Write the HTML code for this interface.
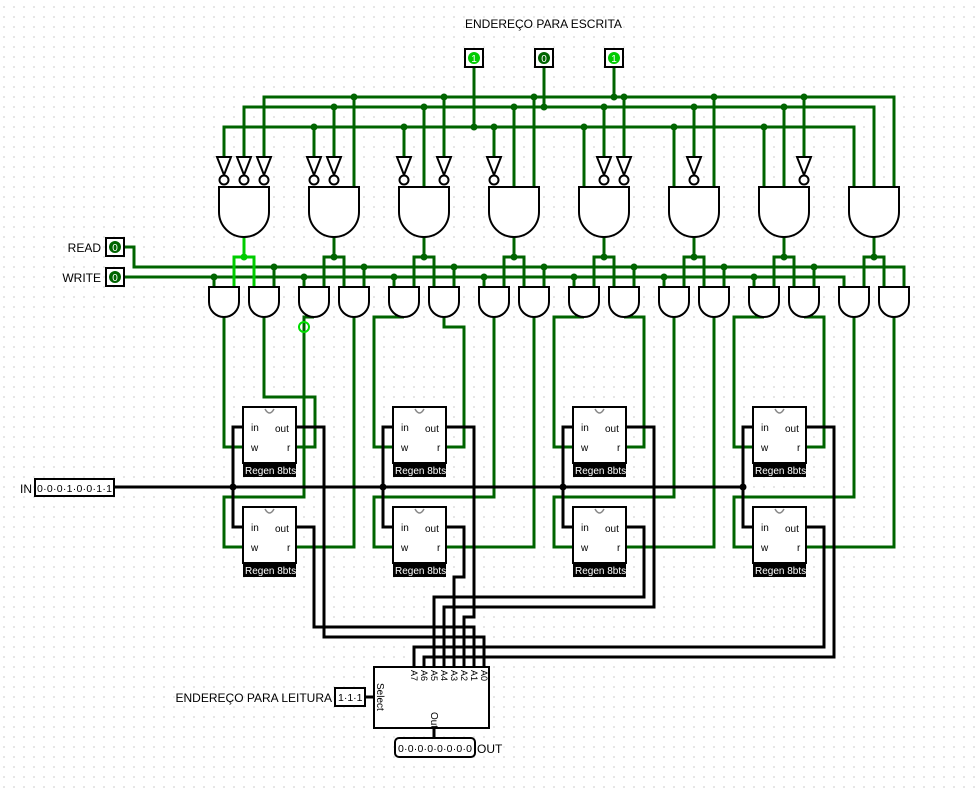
<!DOCTYPE html>
<html><head><meta charset="utf-8"><style>
html,body{margin:0;padding:0;background:#fff}
svg{display:block}
text{font-family:"Liberation Sans",sans-serif}
</style></head><body>
<svg width="979" height="789" viewBox="0 0 979 789" xmlns="http://www.w3.org/2000/svg">
<defs>
<pattern id="grid" width="10" height="10" patternUnits="userSpaceOnUse"><rect x="3.5" y="6.5" width="1" height="1" fill="#999"/></pattern>
<path id="band" d="M-25,0 H25 V25 A25,25 0 0 1 -25,25 Z" fill="#fff" stroke="#000" stroke-width="2"/>
<path id="sand" d="M-15,0 H15 V15 A15,15 0 0 1 -15,15 Z" fill="#fff" stroke="#000" stroke-width="2"/>
<g id="not"><polygon points="-7,0 7,0 0,18" fill="#fff" stroke="#000" stroke-width="2"/><circle cx="0" cy="23" r="4.5" fill="#fff" stroke="#000" stroke-width="2"/></g>
<g id="reg">
<rect x="0" y="0" width="53" height="56" fill="#fff" stroke="#000" stroke-width="2"/>
<path d="M22,2 Q26.5,10 31,2" fill="none" stroke="#888" stroke-width="1.5"/>
<rect x="0" y="56" width="53" height="14" fill="#000"/>
<text x="2" y="67" font-size="10" fill="#fff">Regen 8bts</text>
<text x="8" y="24" font-size="10">in</text>
<text x="8" y="44" font-size="10">w</text>
<text x="32" y="25" font-size="10">out</text>
<text x="44" y="44" font-size="10">r</text>
</g>
<circle id="d" r="3.5"/>
</defs>
<rect width="979" height="789" fill="url(#grid)"/>

<text x="465" y="28" font-size="12">ENDEREÇO PARA ESCRITA</text>

<!-- green wires -->
<g fill="none" stroke="#006400" stroke-width="3" stroke-linejoin="miter">
<polyline points="224,157 224,127 854,127 854,187"/>
<polyline points="244,157 244,107 874,107 874,187"/>
<polyline points="264,157 264,97 894,97 894,187"/>
<line x1="474" y1="66" x2="474" y2="127"/>
<line x1="544" y1="66" x2="544" y2="107"/>
<line x1="614" y1="66" x2="614" y2="97"/>
<path d="M314,127V157M334,107V157M354,97V187
M404,127V157M424,107V187M444,97V157
M494,127V157M514,107V187M534,97V187
M584,127V187M604,107V157M624,97V157
M674,127V187M694,107V157M714,97V187
M764,127V187M784,107V187M804,97V157"/>
<!-- decoder outputs -->
<path d="M334,237V257M324,287V257H344V287
M424,237V257M414,287V257H434V287
M514,237V257M504,287V257H524V287
M604,237V257M594,287V257H614V287
M694,237V257M684,287V257H704V287
M784,237V257M774,287V257H794V287
M874,237V257M864,287V257H884V287"/>
<!-- read / write -->
<polyline points="124,247 134,247 134,267 904,267 904,287"/>
<polyline points="124,277 844,277 844,287"/>
<path d="M274,267V287M364,267V287M454,267V287M544,267V287M634,267V287M724,267V287M814,267V287
M214,277V287M304,277V287M394,277V287M484,277V287M574,277V287M664,277V287M754,277V287"/>
<!-- small and to registers -->
<polyline points="224,317 224,447 243,447"/>
<polyline points="264,317 264,397 315,397 315,447 296,447"/>
<polyline points="314,317 304,317 304,497 224,497 224,547 243,547"/>
<polyline points="354,317 354,547 296,547"/>
<polyline points="404,317 374,317 374,447 393,447"/>
<polyline points="444,317 444,327 464,327 464,447 446,447"/>
<polyline points="494,317 494,497 374,497 374,547 393,547"/>
<polyline points="534,317 534,547 446,547"/>
<polyline points="584,317 554,317 554,447 573,447"/>
<polyline points="624,317 644,317 644,447 626,447"/>
<polyline points="674,317 674,497 554,497 554,547 573,547"/>
<polyline points="714,317 714,547 626,547"/>
<polyline points="764,317 734,317 734,447 753,447"/>
<polyline points="804,317 824,317 824,447 806,447"/>
<polyline points="854,317 854,497 734,497 734,547 753,547"/>
<polyline points="894,317 894,547 806,547"/>
</g>
<!-- bright green gate 0 path -->
<path d="M244,237V257M234,287V257H254V287" fill="none" stroke="#00cc00" stroke-width="3"/>
<circle cx="304" cy="327" r="5" fill="none" stroke="#00dd00" stroke-width="2"/>

<!-- junction dots -->
<g fill="#006400">
<use href="#d" x="474" y="127"/><use href="#d" x="544" y="107"/><use href="#d" x="614" y="97"/>
<use href="#d" x="314" y="127"/><use href="#d" x="404" y="127"/><use href="#d" x="494" y="127"/><use href="#d" x="584" y="127"/><use href="#d" x="674" y="127"/><use href="#d" x="764" y="127"/>
<use href="#d" x="334" y="107"/><use href="#d" x="424" y="107"/><use href="#d" x="514" y="107"/><use href="#d" x="604" y="107"/><use href="#d" x="694" y="107"/><use href="#d" x="784" y="107"/>
<use href="#d" x="354" y="97"/><use href="#d" x="444" y="97"/><use href="#d" x="534" y="97"/><use href="#d" x="624" y="97"/><use href="#d" x="714" y="97"/><use href="#d" x="804" y="97"/>
<use href="#d" x="334" y="257"/><use href="#d" x="424" y="257"/><use href="#d" x="514" y="257"/><use href="#d" x="604" y="257"/><use href="#d" x="694" y="257"/><use href="#d" x="784" y="257"/><use href="#d" x="874" y="257"/>
<use href="#d" x="274" y="267"/><use href="#d" x="364" y="267"/><use href="#d" x="454" y="267"/><use href="#d" x="544" y="267"/><use href="#d" x="634" y="267"/><use href="#d" x="724" y="267"/><use href="#d" x="814" y="267"/>
<use href="#d" x="214" y="277"/><use href="#d" x="304" y="277"/><use href="#d" x="394" y="277"/><use href="#d" x="484" y="277"/><use href="#d" x="574" y="277"/><use href="#d" x="664" y="277"/><use href="#d" x="754" y="277"/>
</g>
<use href="#d" x="244" y="257" fill="#00cc00"/>

<!-- gates -->
<use href="#band" x="244" y="187"/><use href="#band" x="334" y="187"/><use href="#band" x="424" y="187"/><use href="#band" x="514" y="187"/>
<use href="#band" x="604" y="187"/><use href="#band" x="694" y="187"/><use href="#band" x="784" y="187"/><use href="#band" x="874" y="187"/>
<use href="#not" x="224" y="157"/><use href="#not" x="244" y="157"/><use href="#not" x="264" y="157"/>
<use href="#not" x="314" y="157"/><use href="#not" x="334" y="157"/>
<use href="#not" x="404" y="157"/><use href="#not" x="444" y="157"/>
<use href="#not" x="494" y="157"/>
<use href="#not" x="604" y="157"/><use href="#not" x="624" y="157"/>
<use href="#not" x="694" y="157"/>
<use href="#not" x="804" y="157"/>
<g>
<use href="#sand" x="224" y="287"/><use href="#sand" x="264" y="287"/>
<use href="#sand" x="314" y="287"/><use href="#sand" x="354" y="287"/>
<use href="#sand" x="404" y="287"/><use href="#sand" x="444" y="287"/>
<use href="#sand" x="494" y="287"/><use href="#sand" x="534" y="287"/>
<use href="#sand" x="584" y="287"/><use href="#sand" x="624" y="287"/>
<use href="#sand" x="674" y="287"/><use href="#sand" x="714" y="287"/>
<use href="#sand" x="764" y="287"/><use href="#sand" x="804" y="287"/>
<use href="#sand" x="854" y="287"/><use href="#sand" x="894" y="287"/>
</g>

<!-- black wires -->
<g fill="none" stroke="#000" stroke-width="3">
<line x1="114" y1="487" x2="745" y2="487"/>
<polyline points="243,427 233,427 233,527 243,527"/>
<polyline points="393,427 383,427 383,527 393,527"/>
<polyline points="573,427 563,427 563,527 573,527"/>
<polyline points="753,427 743,427 743,527 753,527"/>
<polyline points="296,427 324,427 324,637 484,637 484,667"/>
<polyline points="296,527 314,527 314,627 474,627 474,667"/>
<polyline points="446,427 474,427 474,617 464,617 464,667"/>
<polyline points="446,527 464,527 464,577 454,577 454,667"/>
<polyline points="626,427 654,427 654,607 444,607 444,667"/>
<polyline points="626,527 644,527 644,597 434,597 434,667"/>
<polyline points="806,427 834,427 834,657 424,657 424,667"/>
<polyline points="806,527 824,527 824,647 414,647 414,667"/>
<line x1="365" y1="697" x2="374" y2="697"/>
<line x1="434" y1="728" x2="434" y2="738"/>
</g>
<g fill="#000"><use href="#d" x="233" y="487"/><use href="#d" x="383" y="487"/><use href="#d" x="563" y="487"/><use href="#d" x="743" y="487"/></g>

<!-- registers -->
<use href="#reg" x="243" y="407"/><use href="#reg" x="243" y="507"/>
<use href="#reg" x="393" y="407"/><use href="#reg" x="393" y="507"/>
<use href="#reg" x="573" y="407"/><use href="#reg" x="573" y="507"/>
<use href="#reg" x="753" y="407"/><use href="#reg" x="753" y="507"/>

<!-- top pins -->
<rect x="465" y="49" width="18" height="18" fill="#fff" stroke="#000" stroke-width="2"/>
<circle cx="474" cy="58" r="6" fill="#00cc00"/><text x="474" y="62" font-size="10" text-anchor="middle" fill="#fff">1</text>
<rect x="535" y="49" width="18" height="18" fill="#fff" stroke="#000" stroke-width="2"/>
<circle cx="544" cy="58" r="6" fill="#006400"/><text x="544" y="62" font-size="10" text-anchor="middle" fill="#fff">0</text>
<rect x="605" y="49" width="18" height="18" fill="#fff" stroke="#000" stroke-width="2"/>
<circle cx="614" cy="58" r="6" fill="#00cc00"/><text x="614" y="62" font-size="10" text-anchor="middle" fill="#fff">1</text>

<!-- read / write pins -->
<text x="101" y="252" font-size="12" text-anchor="end">READ</text>
<rect x="106" y="238" width="18" height="18" fill="#fff" stroke="#000" stroke-width="2"/>
<circle cx="115" cy="247" r="6" fill="#006400"/><text x="115" y="251" font-size="10" text-anchor="middle" fill="#fff">0</text>
<text x="101" y="282" font-size="12" text-anchor="end">WRITE</text>
<rect x="106" y="268" width="18" height="18" fill="#fff" stroke="#000" stroke-width="2"/>
<circle cx="115" cy="277" r="6" fill="#006400"/><text x="115" y="281" font-size="10" text-anchor="middle" fill="#fff">0</text>

<!-- IN -->
<text x="20" y="493" font-size="12">IN</text>
<rect x="35" y="479" width="79" height="17" fill="#fff" stroke="#000" stroke-width="2"/>
<text x="37" y="492" font-size="10.5" textLength="75">0·0·0·1·0·0·1·1</text>

<!-- mux -->
<rect x="374" y="667" width="115" height="61" fill="#fff" stroke="#000" stroke-width="2"/>
<g font-size="9">
<text transform="translate(411,670) rotate(90)">A7</text>
<text transform="translate(421,670) rotate(90)">A6</text>
<text transform="translate(431,670) rotate(90)">A5</text>
<text transform="translate(441,670) rotate(90)">A4</text>
<text transform="translate(451,670) rotate(90)">A3</text>
<text transform="translate(461,670) rotate(90)">A2</text>
<text transform="translate(471,670) rotate(90)">A1</text>
<text transform="translate(481,670) rotate(90)">A0</text>
<text transform="translate(377,683) rotate(90)" font-size="10">Select</text>
<text transform="translate(431,712) rotate(90)" font-size="10">Out</text>
</g>
<text x="332" y="702" font-size="12" text-anchor="end">ENDEREÇO PARA LEITURA</text>
<rect x="335" y="688" width="30" height="18" fill="#fff" stroke="#000" stroke-width="2"/>
<text x="338" y="701" font-size="10.5">1·1·1</text>
<rect x="395" y="738" width="80" height="19" rx="4" fill="#fff" stroke="#000" stroke-width="2"/>
<text x="398" y="752" font-size="10.5" textLength="74">0·0·0·0·0·0·0·0</text>
<text x="477" y="753" font-size="12">OUT</text>
</svg>
</body></html>
